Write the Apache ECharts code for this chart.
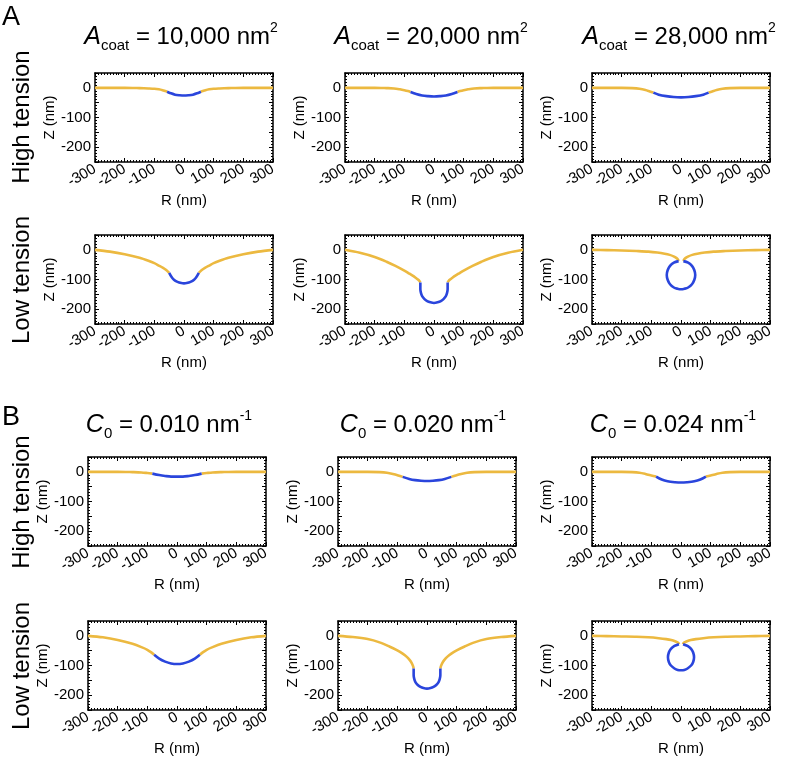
<!DOCTYPE html>
<html>
<head>
<meta charset="utf-8">
<title>membrane profiles</title>
<script src="https://cdn.jsdelivr.net/npm/echarts@6/dist/echarts.min.js"></script>
<style>
  html, body { margin: 0; padding: 0; background: #fff; }
  #main { width: 802px; height: 759px; }
</style>
</head>
<body>
<div id="main"></div>
<script>
// axis ticks
var rTicks = [-300, -200, -100, 0, 100, 200, 300];
var zTicks = [-200, -100, 0];

// ---- A, high tension ----
var aHi1Left = [[-300, 0], [-200, 0], [-150, -1], [-120, -2], [-100, -3], [-85, -5], [-72, -8], [-63, -11], [-57, -13]];
var aHi1Coat = [[-57, -13], [-45, -18], [-30, -23], [-15, -25], [0, -26], [15, -25], [30, -23], [45, -18], [57, -13]];
var aHi1Right = [[57, -13], [63, -11], [72, -8], [85, -5], [100, -3], [120, -2], [150, -1], [200, 0], [300, 0]];

var aHi2Left = [[-300, 0], [-200, 0], [-160, -1], [-135, -2], [-115, -5], [-100, -8], [-88, -11], [-79, -14]];
var aHi2Coat = [[-79, -14], [-60, -21], [-40, -26], [-20, -28], [0, -29], [20, -28], [40, -26], [60, -21], [79, -14]];
var aHi2Right = [[79, -14], [88, -11], [100, -8], [115, -5], [135, -2], [160, -1], [200, 0], [300, 0]];

var aHi3Left = [[-300, 0], [-200, 0], [-165, -1], [-140, -3], [-120, -7], [-105, -12], [-93, -16]];
var aHi3Coat = [[-93, -16], [-75, -23], [-50, -28], [-25, -31], [0, -32], [25, -31], [50, -28], [75, -23], [93, -16]];
var aHi3Right = [[93, -16], [105, -12], [120, -7], [140, -3], [165, -1], [200, 0], [300, 0]];

// ---- A, low tension ----
var aLo1Left = [[-300, 0], [-250, -6], [-200, -15], [-150, -27], [-120, -37], [-100, -45], [-85, -53], [-72, -60], [-60, -68], [-50, -78]];
var aLo1Coat = [[-50, -78], [-43, -90], [-34, -101], [-22, -108], [-9, -112], [0, -113], [9, -112], [22, -108], [34, -101], [43, -90], [50, -78]];
var aLo1Right = [[50, -78], [60, -68], [72, -60], [85, -53], [100, -45], [120, -37], [150, -27], [200, -15], [250, -6], [300, 0]];

var aLo2Left = [[-300, 0], [-250, -10], [-200, -24], [-160, -40], [-130, -54], [-100, -70], [-85, -79], [-72, -87], [-62, -94], [-54, -100], [-49, -105], [-46, -110]];
var aLo2Coat = [[-46, -110], [-46, -122], [-46, -133], [-44, -145], [-40, -156], [-32, -166], [-23, -173], [-12, -177], [0, -179],
  [12, -177], [23, -173], [32, -166], [40, -156], [44, -145], [46, -133], [46, -122], [46, -110]];
var aLo2Right = [[46, -110], [49, -105], [54, -100], [62, -94], [72, -87], [85, -79], [100, -70], [130, -54], [160, -40], [200, -24], [250, -10], [300, 0]];

var aLo3Left = [[-300, 0], [-250, -1], [-200, -2], [-150, -4], [-110, -6], [-80, -9], [-55, -13], [-38, -17], [-25, -22], [-16, -27], [-11, -32], [-8, -38]];
var aLo3Coat = [[-8, -38], [-24, -43], [-37, -54], [-45, -69], [-48, -85], [-45, -101], [-37, -116], [-24, -127], [-12, -131], [0, -133],
  [12, -131], [24, -127], [37, -116], [45, -101], [48, -85], [45, -69], [37, -54], [24, -43], [8, -38]];
var aLo3Right = [[8, -38], [11, -32], [16, -27], [25, -22], [38, -17], [55, -13], [80, -9], [110, -6], [150, -4], [200, -2], [250, -1], [300, 0]];

// ---- B, high tension ----
var bHi1Left = [[-300, 0], [-200, 0], [-150, -1], [-120, -2], [-100, -4], [-83, -6]];
var bHi1Coat = [[-83, -6], [-60, -11], [-40, -14], [-20, -16], [0, -16], [20, -16], [40, -14], [60, -11], [83, -6]];
var bHi1Right = [[83, -6], [100, -4], [120, -2], [150, -1], [200, 0], [300, 0]];

var bHi2Left = [[-300, 0], [-200, 0], [-160, -1], [-135, -3], [-115, -7], [-97, -12], [-82, -17]];
var bHi2Coat = [[-82, -17], [-60, -24], [-40, -28], [-20, -30], [0, -31], [20, -30], [40, -28], [60, -24], [82, -17]];
var bHi2Right = [[82, -17], [97, -12], [115, -7], [135, -3], [160, -1], [200, 0], [300, 0]];

var bHi3Left = [[-300, 0], [-200, 0], [-165, -1], [-140, -3], [-120, -7], [-100, -12], [-84, -16]];
var bHi3Coat = [[-84, -16], [-65, -26], [-45, -32], [-20, -35], [0, -36], [20, -35], [45, -32], [65, -26], [84, -16]];
var bHi3Right = [[84, -16], [100, -12], [120, -7], [140, -3], [165, -1], [200, 0], [300, 0]];

// ---- B, low tension ----
var bLo1Left = [[-300, 0], [-250, -5], [-200, -14], [-150, -27], [-120, -38], [-100, -47], [-88, -55], [-77, -64]];
var bLo1Coat = [[-77, -64], [-60, -77], [-40, -87], [-20, -93], [0, -95], [20, -93], [40, -87], [60, -77], [77, -64]];
var bLo1Right = [[77, -64], [88, -55], [100, -47], [120, -38], [150, -27], [200, -14], [250, -5], [300, 0]];

var bLo2Left = [[-300, 0], [-250, -4], [-200, -11], [-160, -22], [-127, -36], [-100, -49], [-82, -60], [-68, -71], [-58, -82], [-51, -93], [-47, -102], [-45, -110]];
var bLo2Coat = [[-45, -110], [-45, -122], [-45, -133], [-43, -145], [-39, -156], [-32, -165], [-22, -172], [-12, -176], [0, -178],
  [12, -176], [22, -172], [32, -165], [39, -156], [43, -145], [45, -133], [45, -122], [45, -110]];
var bLo2Right = [[45, -110], [47, -102], [51, -93], [58, -82], [68, -71], [82, -60], [100, -49], [127, -36], [160, -22], [200, -11], [250, -4], [300, 0]];

var bLo3Left = [[-300, 0], [-250, -1], [-200, -2], [-150, -3], [-110, -5], [-75, -8], [-50, -11], [-33, -14], [-20, -18], [-12, -22], [-8, -25], [-7, -28]];
var bLo3Coat = [[-7, -28], [-22, -34], [-34, -44], [-41, -56], [-44, -72], [-41, -88], [-34, -100], [-22, -110], [-11, -115], [0, -116],
  [11, -115], [22, -110], [34, -100], [41, -88], [44, -72], [41, -56], [34, -44], [22, -34], [7, -28]];
var bLo3Right = [[7, -28], [8, -25], [12, -22], [20, -18], [33, -14], [50, -11], [75, -8], [110, -5], [150, -3], [200, -2], [250, -1], [300, 0]];

var panels = [
  [aHi1Left, aHi1Coat, aHi1Right], [aHi2Left, aHi2Coat, aHi2Right], [aHi3Left, aHi3Coat, aHi3Right],
  [aLo1Left, aLo1Coat, aLo1Right], [aLo2Left, aLo2Coat, aLo2Right], [aLo3Left, aLo3Coat, aLo3Right],
  [bHi1Left, bHi1Coat, bHi1Right], [bHi2Left, bHi2Coat, bHi2Right], [bHi3Left, bHi3Coat, bHi3Right],
  [bLo1Left, bLo1Coat, bLo1Right], [bLo2Left, bLo2Coat, bLo2Right], [bLo3Left, bLo3Coat, bLo3Right]
];

var FONT = '"Liberation Sans", Helvetica, Arial, sans-serif';
var YELLOW = '#ecb940';
var BLUE = '#2a45dc';

// panel boxes (left, top), all 178 x 89
var colA = [95, 345, 592];
var colB = [88, 338, 592];
var rows = [73, 235, 457, 621];

var grids = [], xAxes = [], yAxes = [], series = [];

function frameAxis(extra) {
  var base = {
    type: 'value',
    axisLine: { show: true, onZero: false, lineStyle: { color: '#000', width: 1.5 } },
    axisTick: { show: true, inside: true, length: 4, lineStyle: { color: '#000', width: 1 } },
    minorTick: { show: true, length: 2, lineStyle: { color: '#000', width: 1 } },
    splitLine: { show: false },
    minorSplitLine: { show: false }
  };
  return Object.assign(base, extra);
}

panels.forEach(function (p, i) {
  var r = Math.floor(i / 3), c = i % 3;
  var left = r < 2 ? colA[c] : colB[c];
  grids.push({ left: left, top: rows[r], width: 178, height: 89, outerBoundsMode: 'none', containLabel: false });

  // bottom + top
  xAxes.push(frameAxis({
    gridIndex: i, position: 'bottom', min: -300, max: 300, interval: 100,
    minorTick: { show: true, splitNumber: 10, length: 2, lineStyle: { color: '#000' } },
    name: 'R (nm)', nameLocation: 'middle', nameGap: 31,
    nameTextStyle: { fontSize: 15, color: '#000', fontFamily: FONT },
    axisLabel: { rotate: 30, fontSize: 15, color: '#000', fontFamily: FONT, margin: 6,
      formatter: function (v) { return rTicks.indexOf(v) >= 0 ? String(v) : ''; } }
  }));
  xAxes.push(frameAxis({
    gridIndex: i, position: 'top', min: -300, max: 300, interval: 100,
    minorTick: { show: true, splitNumber: 10, length: 2, lineStyle: { color: '#000' } },
    axisLabel: { show: false }
  }));
  // left + right
  yAxes.push(frameAxis({
    gridIndex: i, position: 'left', min: -250, max: 50, interval: 50,
    minorTick: { show: true, splitNumber: 5, length: 2, lineStyle: { color: '#000' } },
    name: 'Z (nm)', nameLocation: 'middle', nameGap: 35,
    nameTextStyle: { fontSize: 15, color: '#000', fontFamily: FONT },
    axisLabel: { fontSize: 15, color: '#000', fontFamily: FONT, margin: 4,
      formatter: function (v) { return zTicks.indexOf(v) >= 0 ? String(v) : ''; } }
  }));
  yAxes.push(frameAxis({
    gridIndex: i, position: 'right', min: -250, max: 50, interval: 50,
    minorTick: { show: true, splitNumber: 5, length: 2, lineStyle: { color: '#000' } },
    axisLabel: { show: false }
  }));

  // yellow (free membrane) and blue (coat)
  [p[0], p[2]].forEach(function (d) {
    series.push({ type: 'line', xAxisIndex: 2 * i, yAxisIndex: 2 * i, data: d,
      showSymbol: false, smooth: 0.3, silent: true, z: 2,
      lineStyle: { color: YELLOW, width: 2.6 } });
  });
  series.push({ type: 'line', xAxisIndex: 2 * i, yAxisIndex: 2 * i, data: p[1],
    showSymbol: false, smooth: 0.3, silent: true, z: 3,
    lineStyle: { color: BLUE, width: 2.6 } });
});

var titleRich = {
  it: { fontSize: 25, fontStyle: 'italic', fontFamily: FONT, lineHeight: 32 },
  sub: { fontSize: 15, fontFamily: FONT, verticalAlign: 'bottom', lineHeight: 15 },
  n: { fontSize: 24, fontFamily: FONT, lineHeight: 32 },
  sup: { fontSize: 14, fontFamily: FONT, verticalAlign: 'top', lineHeight: 16 }
};

function title(x, y, txt) {
  return { type: 'text', x: x, y: y, silent: true,
    style: { text: txt, rich: titleRich, align: 'center', verticalAlign: 'middle', fill: '#000' } };
}

function sideLabel(x, y, txt) {
  return { type: 'text', x: x, y: y, rotation: Math.PI / 2, silent: true,
    style: { text: txt, fontSize: 24, fontFamily: FONT, fill: '#000', align: 'center', verticalAlign: 'middle' } };
}

var graphics = [
  { type: 'text', x: 2, y: 18, silent: true, style: { text: 'A', fontSize: 27, fontFamily: FONT, fill: '#000', verticalAlign: 'middle' } },
  { type: 'text', x: 2, y: 418, silent: true, style: { text: 'B', fontSize: 27, fontFamily: FONT, fill: '#000', verticalAlign: 'middle' } },
  title(181, 37, '{it|A}{sub|coat}{n| = 10,000 nm}{sup|2}'),
  title(431, 37, '{it|A}{sub|coat}{n| = 20,000 nm}{sup|2}'),
  title(679, 37, '{it|A}{sub|coat}{n| = 28,000 nm}{sup|2}'),
  title(169, 425, '{it|C}{sub|0}{n| = 0.010 nm}{sup|-1}'),
  title(423, 425, '{it|C}{sub|0}{n| = 0.020 nm}{sup|-1}'),
  title(673, 425, '{it|C}{sub|0}{n| = 0.024 nm}{sup|-1}'),
  sideLabel(22, 117, 'High tension'),
  sideLabel(22, 280, 'Low tension'),
  sideLabel(22, 502, 'High tension'),
  sideLabel(22, 666, 'Low tension')
];

var chart = echarts.init(document.getElementById('main'), null, { renderer: 'canvas' });
chart.setOption({
  animation: false,
  backgroundColor: '#fff',
  textStyle: { fontFamily: FONT },
  grid: grids,
  xAxis: xAxes,
  yAxis: yAxes,
  series: series,
  graphic: graphics
});
</script>
</body>
</html>
